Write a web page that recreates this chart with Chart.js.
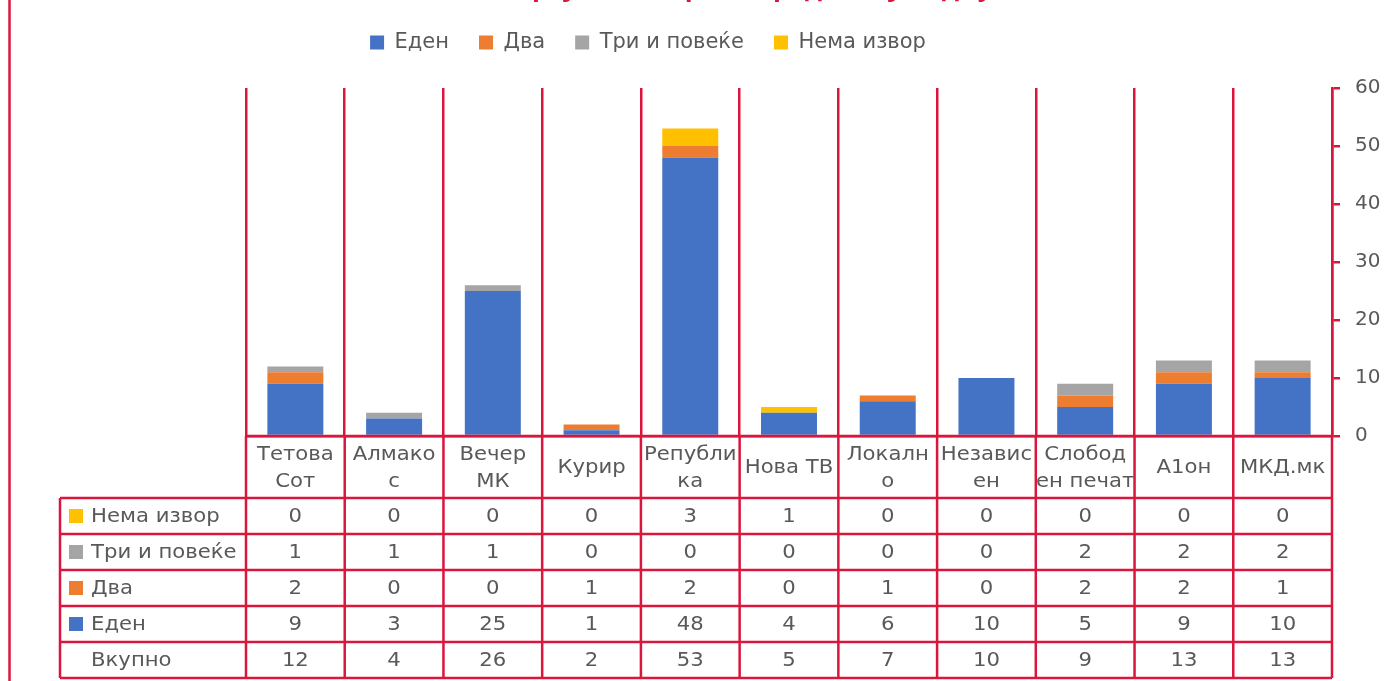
<!DOCTYPE html>
<html>
<head>
<meta charset="utf-8">
<script src="https://cdn.jsdelivr.net/npm/chart.js@4.4.1/dist/chart.umd.min.js"></script>
<style>
  html, body { margin: 0; padding: 0; background: #fff; }
  #wrap { width: 1394px; height: 681px; position: relative; }
</style>
</head>
<body>
<div id="wrap"><canvas id="myChart" width="1394" height="681"></canvas></div>
<script>
// податоци
const categories = [
  ['Тетова', 'Сот'], ['Алмако', 'с'], ['Вечер', 'МК'], ['Курир'], ['Републи', 'ка'],
  ['Нова ТВ'], ['Локалн', 'о'], ['Независ', 'ен'], ['Слобод', 'ен печат'], ['А1он'], ['МКД.мк']
];
const eden = [9, 3, 25, 1, 48, 4, 6, 10, 5, 9, 10];
const dva = [2, 0, 0, 1, 2, 0, 1, 0, 2, 2, 1];
const triPovekje = [1, 1, 1, 0, 0, 0, 0, 0, 2, 2, 2];
const nemaIzvor = [0, 0, 0, 0, 3, 1, 0, 0, 0, 0, 0];
const vkupno = [12, 4, 26, 2, 53, 5, 7, 10, 9, 13, 13];
const yTicks = [0, 10, 20, 30, 40, 50, 60];

const RED = 'rgb(219,22,60)';
const GREY = '#595959';
const FONT = '"DejaVu Sans", "Open Sans", sans-serif';
const titleText = 'Број на извори според секој медиум';

const ctx = document.getElementById('myChart').getContext('2d');

// легендата: повисока кутија и центрирана над целата слика
const legendPlugin = {
  id: 'legendFix',
  afterInit(chart) {
    const lg = chart.legend;
    const origFit = lg.fit;
    lg.fit = function () {
      origFit.call(this);
      this.height += 25;
    };
  },
  afterLayout(chart) {
    chart.legend.left = 0;
    chart.legend.right = 1296;
    chart.legend.width = 1296;
  }
};

// текст малку раширен хоризонтално (како во оригиналот)
function wideText(c, txt, x, y, align) {
  c.save();
  c.translate(x, y);
  c.scale(1.06, 1);
  c.textAlign = align;
  c.fillText(txt, 0, 0);
  c.restore();
}

// наслов (исечен горе) + табела со податоци под графикот
const tablePlugin = {
  id: 'tablePlugin',
  afterDraw(chart) {
    const c = chart.ctx;
    const xs = chart.scales.x;
    const area = chart.chartArea;
    const n = categories.length;
    const colW = (area.right - area.left) / n;
    const top = area.bottom;           // 436
    const headBottom = top + 62;        // 498
    const rowH = 36;
    const rows = [
      { label: 'Нема извор', color: '#FFC000', vals: nemaIzvor },
      { label: 'Три и повеќе', color: '#A5A5A5', vals: triPovekje },
      { label: 'Два', color: '#ED7D31', vals: dva },
      { label: 'Еден', color: '#4472C4', vals: eden },
      { label: 'Вкупно', color: null, vals: vkupno }
    ];
    const tableBottom = headBottom + rowH * rows.length;
    const leftX = 60;

    c.save();
    // лева црвена линија
    c.strokeStyle = RED;
    c.lineWidth = 2.5;
    c.beginPath();
    c.moveTo(9.5, 0); c.lineTo(9.5, 681);
    c.stroke();

    // наслов
    c.fillStyle = RED;
    c.font = 'bold 26px "Open Sans", sans-serif';
    c.textAlign = 'center';
    c.textBaseline = 'alphabetic';
    c.fillText(titleText, 765, -4);

    // вертикални линии
    c.beginPath();
    for (let i = 0; i <= n; i++) {
      const x = area.left + i * colW;
      c.moveTo(x, top); c.lineTo(x, tableBottom);
    }
    c.moveTo(leftX, headBottom); c.lineTo(leftX, tableBottom);
    // хоризонтални линии
    c.moveTo(area.left, top); c.lineTo(area.right, top);
    for (let r = 0; r <= rows.length; r++) {
      const y = headBottom + r * rowH;
      c.moveTo(leftX, y); c.lineTo(area.right, y);
    }
    c.stroke();

    // категории
    c.fillStyle = GREY;
    c.font = '20px ' + FONT;
    c.textBaseline = 'middle';
    for (let i = 0; i < n; i++) {
      const cx = xs.getPixelForValue(i);
      const lines = categories[i];
      const mid = (top + headBottom) / 2 + 1;
      if (lines.length === 1) {
        wideText(c, lines[0], cx, mid, 'center');
      } else {
        wideText(c, lines[0], cx, mid - 13, 'center');
        wideText(c, lines[1], cx, mid + 14, 'center');
      }
    }

    // редови
    rows.forEach((row, r) => {
      const cy = headBottom + r * rowH + rowH / 2 + 1;
      if (row.color) {
        c.fillStyle = row.color;
        c.fillRect(69, cy - 8, 14, 14);
      }
      c.fillStyle = GREY;
      wideText(c, row.label, 91, cy, 'left');
      for (let i = 0; i < n; i++) {
        wideText(c, String(row.vals[i]), xs.getPixelForValue(i), cy, 'center');
      }
    });
    c.restore();
  }
};

const data = {
  labels: categories.map(l => l.join(' ')),
  datasets: [
    { label: 'Еден', data: eden, backgroundColor: '#4472C4' },
    { label: 'Два', data: dva, backgroundColor: '#ED7D31' },
    { label: 'Три и повеќе', data: triPovekje, backgroundColor: '#A5A5A5' },
    { label: 'Нема извор', data: nemaIzvor, backgroundColor: '#FFC000' }
  ]
};

const myChart = new Chart(ctx, {
  type: 'bar',
  data: data,
  plugins: [legendPlugin, tablePlugin],
  options: {
    responsive: false,
    animation: false,
    devicePixelRatio: 1,
    layout: { padding: { left: 246, right: 0, top: 2, bottom: 0 } },
    datasets: {
      bar: { barPercentage: 0.567, categoryPercentage: 1, borderWidth: 0 }
    },
    plugins: {
      legend: {
        position: 'top',
        labels: {
          boxWidth: 14, boxHeight: 14, padding: 30,
          color: GREY, font: { family: FONT, size: 21 }
        }
      },
      tooltip: { enabled: false }
    },
    scales: {
      x: {
        stacked: true,
        offset: true,
        ticks: { display: false },
        grid: { color: RED, lineWidth: 2.5, drawTicks: false, offset: true },
        border: { color: RED, width: 2.5 },
        afterFit(scale) { scale.height = 245; }
      },
      y: {
        stacked: true,
        position: 'right',
        min: 0, max: 60,
        afterBuildTicks(scale) { scale.ticks = yTicks.map(v => ({ value: v })); },
        ticks: { color: GREY, font: { family: FONT, size: 20 }, padding: 15 },
        grid: { drawOnChartArea: false, color: RED, lineWidth: 2.5, tickLength: 8 },
        border: { color: RED, width: 2.5 },
        afterFit(scale) { scale.width = 62; }
      }
    }
  }
});
</script>
</body>
</html>
